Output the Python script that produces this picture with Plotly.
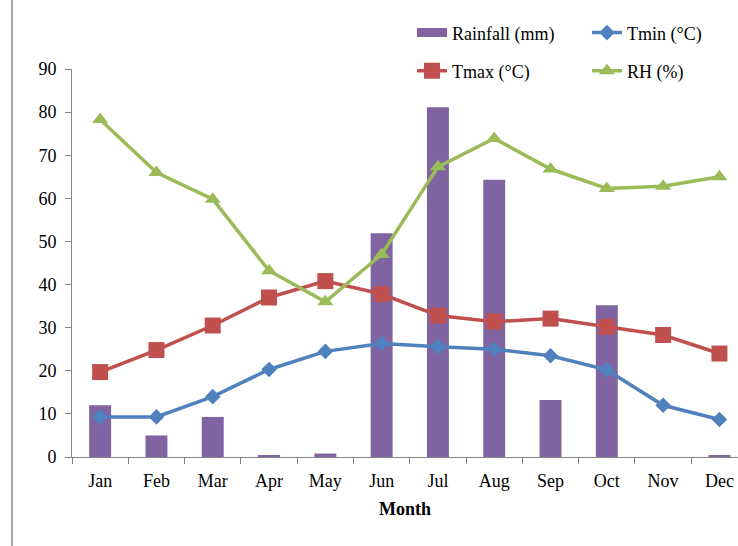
import plotly.graph_objects as go

months = ["Jan", "Feb", "Mar", "Apr", "May", "Jun", "Jul", "Aug", "Sep", "Oct", "Nov", "Dec"]
rainfall = [12.0, 5.0, 9.3, 0.3, 0.8, 51.9, 81.1, 64.3, 13.2, 35.2, 0.0, 0.3]
tmin = [9.3, 9.3, 14.0, 20.3, 24.5, 26.3, 25.6, 25.0, 23.5, 20.2, 12.0, 8.7]
tmax = [19.7, 24.8, 30.5, 37.0, 40.8, 37.8, 32.8, 31.4, 32.1, 30.2, 28.3, 24.0]
rh = [78.3, 66.0, 59.8, 43.2, 36.0, 47.0, 67.3, 73.9, 66.8, 62.3, 62.8, 65.0]
y_ticks = [0, 10, 20, 30, 40, 50, 60, 70, 80, 90]

FONT = "Liberation Serif, Times New Roman, serif"
PURPLE = "#8064A2"

fig = go.Figure()
fig.add_trace(go.Bar(x=months, y=rainfall, name="Rainfall (mm)", showlegend=False,
                     marker=dict(color=PURPLE, line=dict(width=0))))
# legend swatch for rainfall (wide bar-like line)
fig.add_trace(go.Scatter(x=[None], y=[None], name="Rainfall (mm)", mode="lines",
                         line=dict(color=PURPLE, width=9), legend="legend"))
fig.add_trace(go.Scatter(x=months, y=tmin, name="Tmin (°C)", mode="lines+markers",
                         line=dict(color="#4F81BD", width=3.5),
                         marker=dict(symbol="diamond", size=12, color="#4F81BD"), legend="legend"))
fig.add_trace(go.Scatter(x=months, y=tmax, name="Tmax (°C)", mode="lines+markers",
                         line=dict(color="#C0504D", width=3.5),
                         marker=dict(symbol="square", size=16, color="#C0504D"), legend="legend2"))
fig.add_trace(go.Scatter(x=months, y=rh, name="RH (%)", mode="lines+markers",
                         line=dict(color="#9BBB59", width=3.5),
                         marker=dict(symbol="triangle-up", size=14, color="#9BBB59"), legend="legend2"))

legend_common = dict(orientation="h", xanchor="left", yanchor="middle",
                     font=dict(family=FONT, size=18, color="#000"),
                     bgcolor="rgba(0,0,0,0)", entrywidth=130, entrywidthmode="pixels",
                     traceorder="normal")

fig.update_layout(
    width=738, height=546,
    margin=dict(l=72, r=0, t=69, b=89, autoexpand=False),
    paper_bgcolor="white", plot_bgcolor="white",
    font=dict(family=FONT, size=17, color="#000"),
    bargap=0.61,
    showlegend=True,
    legend=dict(x=0.5105, y=1.093, **legend_common),
    legend2=dict(x=0.5105, y=0.995, **legend_common),
    xaxis=dict(range=[-0.5, 11.33], showline=True, linecolor="#868686", linewidth=1,
               ticks="outside", tickson="boundaries", ticklen=6, tickcolor="#868686",
               showgrid=False, tickfont=dict(family=FONT, size=18), ticklabelstandoff=7,
               title=dict(text="<b>Month</b>", font=dict(family=FONT, size=18), standoff=12)),
    yaxis=dict(range=[0, 90], tickvals=y_ticks, showline=True, linecolor="#868686", linewidth=1,
               ticks="outside", ticklen=6, tickcolor="#868686", showgrid=False, zeroline=False,
               tickfont=dict(family=FONT, size=18), ticklabelstandoff=5),
    shapes=[dict(type="line", xref="paper", yref="paper", x0=-0.09, x1=-0.09, y0=-0.3, y1=1.3,
                 line=dict(color="#8c8c8c", width=1.5))],
)

fig.write_html("out.html", config={"displayModeBar": False},
               post_script="document.body.style.margin='0';document.body.style.overflow='hidden';")
